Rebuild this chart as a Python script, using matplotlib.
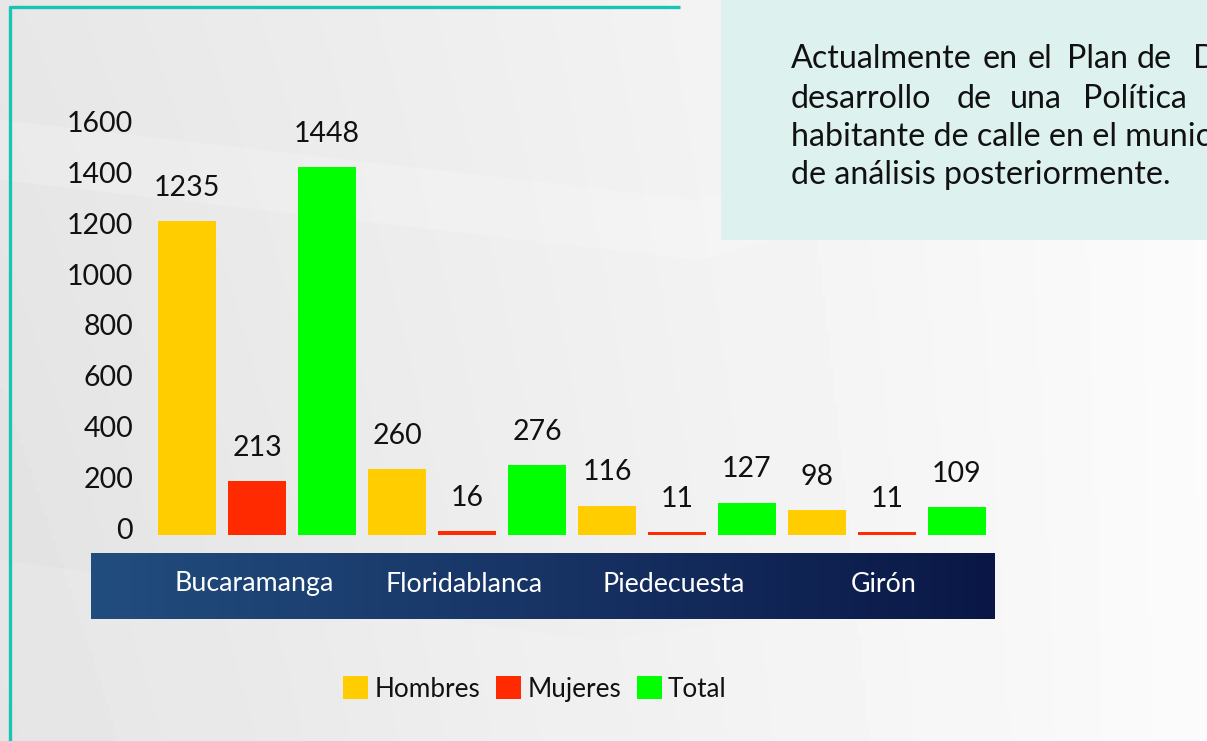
import numpy as np
import matplotlib
matplotlib.use("Agg")
import matplotlib.pyplot as plt
from matplotlib.patches import Rectangle, Polygon
from matplotlib.transforms import ScaledTranslation
from matplotlib.colors import LinearSegmentedColormap

# ---- data ----
cities = ["Bucaramanga", "Floridablanca", "Piedecuesta", "Girón"]
series = ["Hombres", "Mujeres", "Total"]
hombres = [1235, 260, 116, 98]
mujeres = [213, 16, 11, 11]
total = [1448, 276, 127, 109]
yticks = [0, 200, 400, 600, 800, 1000, 1200, 1400, 1600]
colors = ["#FFCD00", "#FF2A00", "#00FF00"]

W, H = 1207, 741
plt.rcParams['font.family'] = ['Lato', 'DejaVu Sans']
fig = plt.figure(figsize=(W / 100, H / 100), dpi=100)

# ---- background (pixel coordinates) ----
bg = fig.add_axes([0, 0, 1, 1], zorder=-10)
bg.set_xlim(0, W)
bg.set_ylim(H, 0)
bg.axis("off")
gx = np.linspace(0, 1, 300)
gy = np.linspace(0, 1, 200)
GX, GY = np.meshgrid(gx, gy)
val = 0.905 + 0.08 * GX - 0.02 * GY * (1 - GX)
bg.imshow(val, extent=(0, W, H, 0), cmap="gray", vmin=0, vmax=1, aspect="auto", zorder=0)
# subtle swooshes
bg.add_patch(Polygon([(0, 180), (700, 260), (1207, 120), (1207, 60), (700, 200), (0, 120)],
                     closed=True, facecolor="white", alpha=0.18, edgecolor="none", zorder=1))
bg.add_patch(Polygon([(0, 560), (600, 640), (1207, 560), (1207, 741), (0, 741)],
                     closed=True, facecolor="white", alpha=0.12, edgecolor="none", zorder=1))
# teal frame lines
teal = "#18C4B2"
bg.plot([10, 10], [6, H], color=teal, lw=2.4, solid_capstyle="butt", zorder=3)
bg.plot([9, 680], [7, 7], color=teal, lw=2.4, solid_capstyle="butt", zorder=3)
# info box
bg.add_patch(Rectangle((721, 0), W - 721, 240, facecolor="#DDF2EF", edgecolor="none", zorder=2))
fs_box = 23.2
line1 = [("Actualmente", 791), ("en", 983), ("el", 1028), ("Plan", 1067), ("de", 1137), ("D", 1193)]
line2 = [("desarrollo", 791), ("de", 957), ("una", 1010), ("Política", 1083)]
for w, x in line1:
    bg.text(x, 59, w, fontsize=fs_box, color="#111111", va="center", ha="left", zorder=4, clip_on=True)
for w, x in line2:
    bg.text(x, 99, w, fontsize=fs_box, color="#111111", va="center", ha="left", zorder=4, clip_on=True)
bg.text(791, 137, "habitante de calle en el munic", fontsize=fs_box, color="#111111",
        va="center", ha="left", zorder=4, clip_on=True)
bg.text(791, 175, "de análisis posteriormente.", fontsize=fs_box, color="#111111",
        va="center", ha="left", zorder=4, clip_on=True)

# category band with gradient
band = np.linspace(0, 1, 256).reshape(1, -1)
cmap_band = LinearSegmentedColormap.from_list("band", ["#214D7E", "#173465", "#0A1746"])
bg.imshow(band, extent=(91, 995, 619, 553), cmap=cmap_band, aspect="auto", zorder=2)

# ---- bar chart axes ----
px_per_unit_x = 70.0
x0_px = 187.0
ax_left_px, ax_right_px = 140, 1005
ax_bot_px, ax_top_px = 535, 100
px_per_val = 0.254
ax = fig.add_axes([ax_left_px / W, 1 - ax_bot_px / H,
                   (ax_right_px - ax_left_px) / W, (ax_bot_px - ax_top_px) / H])
ax.patch.set_alpha(0)
ax.set_xlim((ax_left_px - x0_px) / px_per_unit_x, (ax_right_px - x0_px) / px_per_unit_x)
ax.set_ylim(0, (ax_bot_px - ax_top_px) / px_per_val)
for s in ax.spines.values():
    s.set_visible(False)

n = len(cities)
for si, (name, vals) in enumerate(zip(series, [hombres, mujeres, total])):
    xs = np.arange(n) * len(series) + si
    bars = ax.bar(xs, vals, width=0.83, color=colors[si], label=name)
    for b, v in zip(bars, vals):
        ax.annotate(str(v), (b.get_x() + b.get_width() / 2, v), xytext=(0, 24),
                    textcoords="offset points", ha="center", va="center",
                    fontsize=20.5, color="#111111")

ax.set_yticks(yticks)
ax.set_yticklabels([str(t) for t in yticks])
ax.tick_params(axis="y", length=0, pad=5, labelsize=20.5, labelcolor="#111111")
off = ScaledTranslation(0, 5 / 72, fig.dpi_scale_trans)
for lab in ax.get_yticklabels():
    lab.set_transform(lab.get_transform() + off)
ax.set_xticks([])

# category labels on band
cat_x = np.arange(n) * len(series) + 1
for cx, c in zip(cat_x, cities):
    xp = x0_px + cx * px_per_unit_x
    bg.text(xp - 3, 584, c, fontsize=19.3, color="white", ha="center", va="center", zorder=4)

# legend
leg = fig.legend(loc="center", bbox_to_anchor=(535 / W, 1 - 689 / H), ncol=3, frameon=False,
                 fontsize=18.8, handlelength=0.95, handleheight=0.95, handletextpad=0.25,
                 columnspacing=0.6)
for t in leg.get_texts():
    t.set_color("#111111")

fig.savefig("out.png", dpi=100)
